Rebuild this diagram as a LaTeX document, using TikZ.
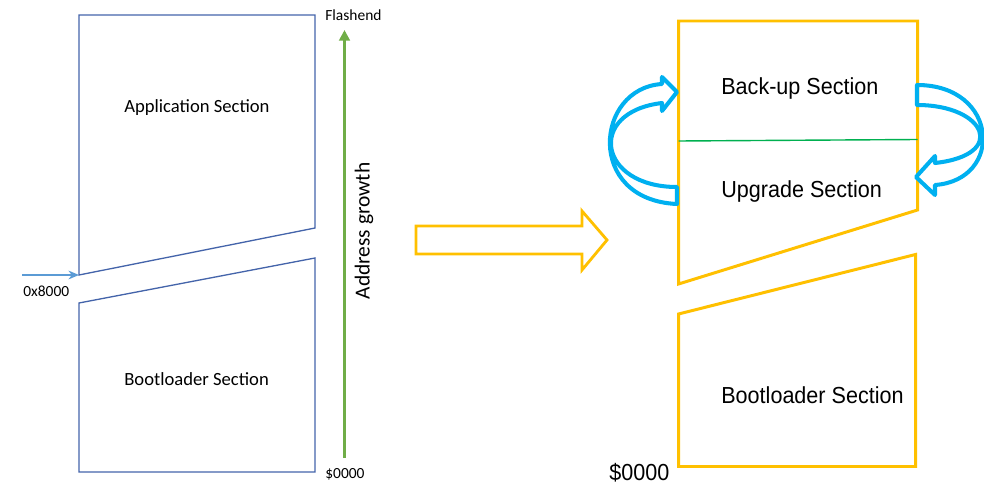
\documentclass[tikz,border=0pt]{standalone}
\usepackage{fontspec}
\setmainfont{Liberation Sans}
\newfontfamily\calfont{Carlito}
\usetikzlibrary{arrows.meta}

\definecolor{mapblue}{RGB}{68,100,170}
\definecolor{ptrblue}{RGB}{91,155,213}
\definecolor{growgreen}{RGB}{112,173,71}
\definecolor{gold}{RGB}{255,192,0}
\definecolor{swapblue}{RGB}{0,176,240}
\definecolor{divgreen}{RGB}{0,176,80}

\newcommand{\narrowtext}[1]{\scalebox{0.93}[1]{#1}}

\tikzset{
  oldmap/.style={draw=mapblue, line width=0.75pt, line join=miter},
  newmap/.style={draw=gold, line width=1.7pt, line join=miter},
  swaparrow/.style={draw=swapblue, line width=2.3pt, line join=round},
  oldlabel/.style={font=\calfont\fontsize{10.6}{12}\selectfont, inner sep=0pt},
  smalllabel/.style={font=\calfont\fontsize{8.8}{10}\selectfont, inner sep=0pt},
  newlabel/.style={font=\fontsize{13.2}{15}\selectfont, inner sep=0pt},
}

\begin{document}
\begin{tikzpicture}[x=0.02cm, y=-0.02cm]
  \useasboundingbox (0,0) rectangle (984,483);

  % ---------- original flash layout ----------
  \coordinate (appTL) at (79,15);
  \coordinate (appTR) at (315,15);
  \coordinate (appBR) at (315,228);
  \coordinate (appBL) at (79,275);
  \coordinate (bootTL) at (79,303);
  \coordinate (bootTR) at (315,258);
  \coordinate (bootBR) at (315,472);
  \coordinate (bootBL) at (79,472);

  \draw[oldmap] (appBL) -- (appTL) -- (appTR) -- (appBR) -- cycle;
  \draw[oldmap] (bootTL) -- (bootTR) -- (bootBR) -- (bootBL) -- cycle;

  \node[oldlabel, anchor=base west] (appText) at (124,112.5) {Application Section};
  \node[oldlabel, anchor=base west] (bootText) at (124,385.5) {Bootloader Section};

  % start address of the application
  \coordinate (ptrStart) at (22,275);
  \draw[ptrblue, line width=0.9pt, -{Stealth[length=6pt,width=5pt]}] (ptrStart) -- (appBL);
  \node[smalllabel, anchor=base west] (ptrText) at (23,296.5) {0x8000};

  % address growth axis
  \coordinate (axisLow) at (344.5,458);
  \coordinate (axisHigh) at (344.5,30);
  \draw[growgreen, line width=1.8pt, -{Triangle[length=6pt,width=6pt]}] (axisLow) -- (axisHigh);
  \node[smalllabel, anchor=base west] (flashEnd) at (325,20.5) {Flashend};
  \node[smalllabel, anchor=base west] (flashStart) at (325,478) {\$0000};
  \node[font=\calfont\fontsize{12.2}{14}\selectfont, inner sep=0pt, rotate=90] (growText) at (364,231) {Address growth};

  % ---------- transition arrow ----------
  \draw[newmap, line width=1.6pt]
    (416,226) -- (582,226) -- (582,211) -- (607,240) -- (582,270) -- (582,254) -- (416,254) -- cycle;

  % ---------- new flash layout ----------
  \coordinate (upTL) at (678.5,21);
  \coordinate (upTR) at (917.5,21);
  \coordinate (upBR) at (917.5,210);
  \coordinate (upBL) at (678.5,284);
  \coordinate (divL) at (678.5,141);
  \coordinate (divR) at (917.5,139.5);
  \coordinate (nbTL) at (678.5,314);
  \coordinate (nbTR) at (915.5,254.5);
  \coordinate (nbBR) at (915.5,466.5);
  \coordinate (nbBL) at (678.5,466.5);

  \draw[newmap] (upBL) -- (upTL) -- (upTR) -- (upBR) -- cycle;
  \draw[divgreen, line width=0.8pt] (divL) -- (divR);
  \draw[newmap] (nbTL) -- (nbTR) -- (nbBR) -- (nbBL) -- cycle;

  \node[newlabel, anchor=base west] (backupText) at (721,95) {\narrowtext{Back-up Section}};
  \node[newlabel, anchor=base west] (upgradeText) at (721,197.5) {\narrowtext{Upgrade Section}};
  \node[newlabel, anchor=base west] (newBootText) at (721,403) {\narrowtext{Bootloader Section}};
  \node[newlabel, anchor=base west] (newStart) at (609,480) {\narrowtext{\$0000}};

  % upgrade -> back-up (left curved block arrow)
  \draw[swaparrow]
    (677,204) -- (677,187)
    .. controls (598,187) and (586,112) .. (662,103)
    -- (662,111) -- (677,92) -- (662,77) -- (662,84)
    .. controls (595,88) and (585,200) .. (677,204) -- cycle;

  % back-up -> upgrade (right curved block arrow)
  \draw[swaparrow]
    (917,85) -- (917,105)
    .. controls (986,105) and (1008,155) .. (935,163)
    -- (935,156) -- (916,177) -- (935,195) -- (935,185)
    .. controls (1004,180) and (999,85) .. (917,85) -- cycle;
\end{tikzpicture}
\end{document}
